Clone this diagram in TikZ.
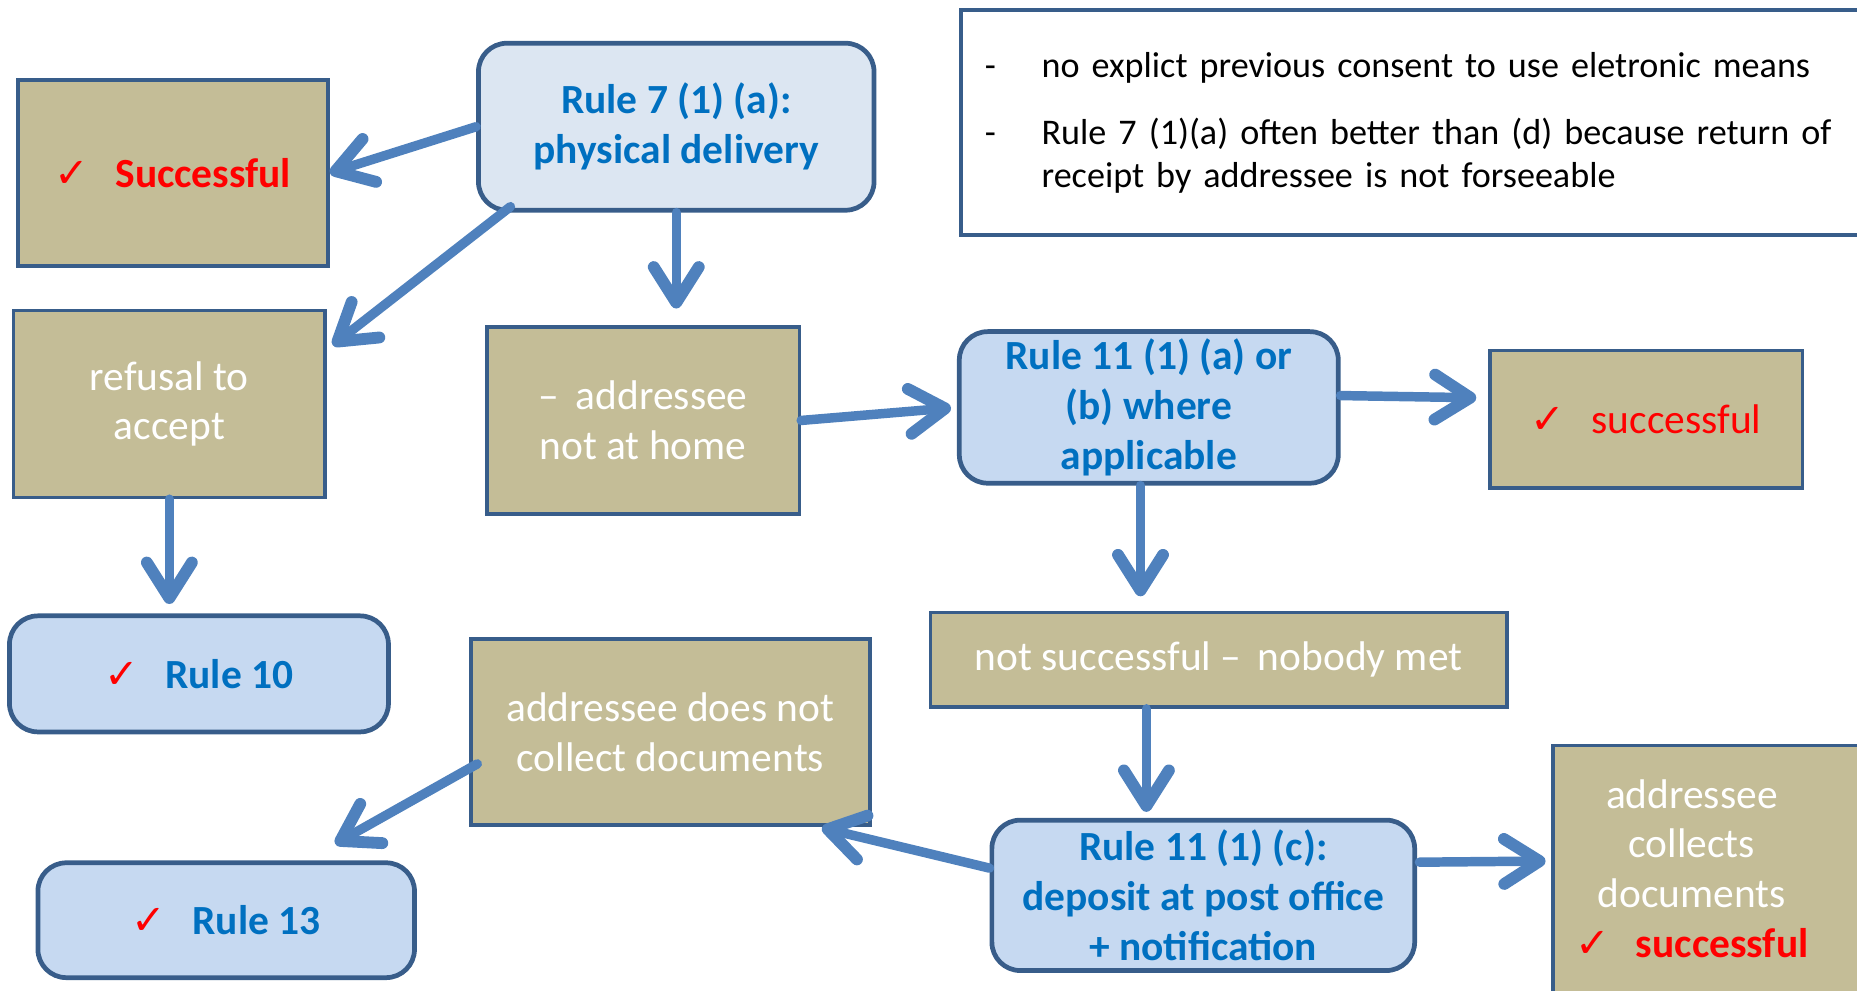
\documentclass[tikz,border=0pt]{standalone}
\usepackage{fontspec}
\setmainfont{Carlito}
\newfontfamily\symfont{DejaVu Sans}
\usetikzlibrary{arrows.meta,positioning,calc}
\definecolor{slidetan}{RGB}{196,189,151}
\definecolor{slideedge}{RGB}{56,93,138}
\definecolor{rulefill}{RGB}{198,217,241}
\definecolor{rulepale}{RGB}{220,230,242}
\definecolor{rulefont}{RGB}{0,112,192}
\definecolor{flowblue}{RGB}{79,129,189}
\newcommand{\okmark}{{\symfont\color{red}✓}}

\begin{document}
\begin{tikzpicture}[
    x=1pt, y=-1pt,
    tanbox/.style={rectangle, draw=slideedge, line width=3pt, fill=slidetan, text=white, font=\fontsize{35}{42}\selectfont, align=center, inner sep=0pt},
    rulebox/.style={rectangle, rounded corners=24pt, draw=slideedge, line width=4pt, fill=rulefill, text=rulefont, font=\fontsize{35}{42}\selectfont\bfseries, align=center, inner sep=0pt},
    notebox/.style={rectangle, draw=slideedge, line width=3pt, fill=white, text=black, font=\fontsize{30.5}{36}\selectfont, align=left, inner xsep=20pt, inner ysep=0pt},
    flow/.style={line width=8pt, flowblue, line cap=round, -{Straight Barb[length=30pt, width=38pt, line width=10pt, round]}}
]
\useasboundingbox (0,0) rectangle (1568,836);
\clip (0,0) rectangle (1568,836);

% Physical delivery branch
\node[rulebox, fill=rulepale, minimum width=334pt, minimum height=141pt] (physical) at (571,107) {Rule 7 (1) (a):\\physical delivery};
\node[tanbox, minimum width=262pt, minimum height=157pt] (succA) at (146,146) {\okmark\hspace{22pt}{\color{red}\bfseries Successful}};
\node[tanbox, minimum width=263pt, minimum height=158pt] (refusal) at (143,341) {refusal to\\accept};
\node[rulebox, minimum width=320pt, minimum height=98pt] (ruleten) at (168,569) {\okmark\hspace{22pt}Rule 10};
\node[tanbox, minimum width=264pt, minimum height=158pt] (nothome) at (543,355) {--\hspace{14pt}addressee\\not at home};

% Rule 11 branch
\node[rulebox, minimum width=320pt, minimum height=128pt] (ruleab) at (970,344) {Rule 11 (1) (a) or\\(b) where\\applicable};
\node[tanbox, minimum width=264pt, minimum height=116pt] (succB) at (1390,354) {\okmark\hspace{22pt}{\color{red}successful}};
\node[tanbox, minimum width=487pt, minimum height=80pt] (nobody) at (1029,557) {not successful --\hspace{14pt}nobody met};
\node[rulebox, minimum width=357pt, minimum height=127pt] (deposit) at (1016,756) {Rule 11 (1) (c):\\deposit at post office\\+ notification};
\node[tanbox, minimum width=337pt, minimum height=157pt] (nocollect) at (566,618) {addressee does not\\collect documents};
\node[rulebox, minimum width=318pt, minimum height=97pt] (rulethirteen) at (191,777) {\okmark\hspace{22pt}Rule 13};
\node[tanbox, anchor=north west, minimum width=300pt, minimum height=215pt] (collects) at (1310,628) {\begin{tabular}{@{}c@{}}addressee\\collects\\documents\\{\color{red}\okmark\hspace{22pt}\bfseries successful}\end{tabular}\hspace{66pt}};

% Note
\node[notebox, anchor=north west, text width=740pt, minimum height=190pt] (note) at (810,7) {\makebox[48pt][l]{-}no explict previous consent to use eletronic means\\[21pt]\makebox[48pt][l]{-}Rule 7 (1)(a) often better than (d) because return of\\\hspace*{48pt}receipt by addressee is not forseeable};

% Arrows
\draw[flow] (physical.west) -- (succA.east);
\draw[flow] ($(physical.south west)+(29,-5)$) -- ($(refusal.north east)+(5,31)$);
\draw[flow, shorten >=14pt] (physical.south) -- (physical.south |- nothome.north);
\draw[flow, shorten >=8pt] (refusal.south) -- (refusal.south |- ruleten.north);
\draw[flow, shorten >=5pt] (nothome.east) -- (ruleab.west);
\draw[flow, shorten >=10pt] ($(ruleab.east)+(0,-10)$) -- ($(succB.west)+(0,-18)$);
\draw[flow, shorten >=12pt] ($(ruleab.south)+(-7,0)$) -- ($(ruleab.south |- nobody.north)+(-7,0)$);
\draw[flow, shorten >=5pt] ($(nobody.south)+(-61,0)$) -- ($(nobody.south |- deposit.north)+(-61,0)$);
\draw[flow] ($(deposit.west)+(0,-23)$) -- ($(nocollect.south east)+(-42,1)$);
\draw[flow, shorten >=5pt] ($(deposit.east)+(2,-28)$) -- ($(collects.west)+(0,-10)$);
\draw[flow] ($(nocollect.west)+(7,27)$) -- ($(rulethirteen.north)+(92,-14)$);

\end{tikzpicture}
\end{document}
